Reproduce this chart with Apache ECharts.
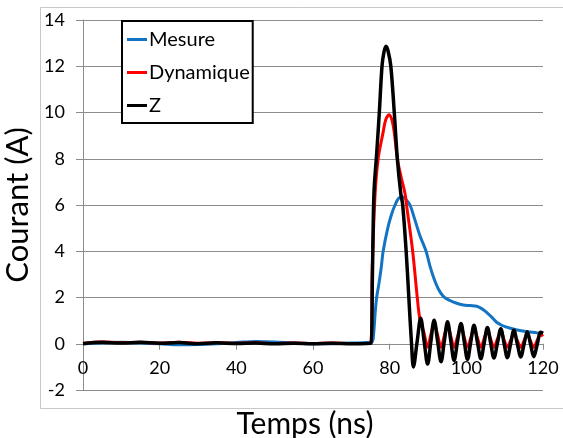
<!DOCTYPE html>
<html>
<head>
<meta charset="utf-8">
<script src="https://cdn.jsdelivr.net/npm/echarts@6/dist/echarts.min.js"></script>
<style>
html,body{margin:0;padding:0;background:#fff;}
#c{width:563px;height:438px;}
</style>
</head>
<body>
<div id="c"></div>
<script>
// ---- data ----
const seriesNames = ['Mesure', 'Dynamique', 'Z'];
const xTicks = [0, 20, 40, 60, 80, 100, 120];
const yTicks = [-2, 0, 2, 4, 6, 8, 10, 12, 14];

const tMesure = [0,5,10,15,20,25,30,35,40,45,50,55,60,65,70,74,75.4,75.8,76.2,76.6,77.2,77.8,78.3,79.5,80.5,81.4,82.3,83.3,84.2,85.3,86.5,87.9,89.5,90.5,91.6,92.7,94,95.7,97.5,99.2,101,102.7,104,105.3,106.6,107.9,109.2,110.5,112.2,114,116,118.4,120];
const vMesure = [0,0.03,0.06,0.03,0,-0.04,-0.03,0,0.05,0.1,0.08,0.03,0,0,0.03,0.05,0.08,0.4,1.3,2.0,2.6,3.3,4.0,5.0,5.6,6.0,6.28,6.36,6.25,6.0,5.4,4.67,4.0,3.37,2.8,2.37,2.05,1.87,1.75,1.68,1.65,1.62,1.52,1.36,1.15,0.93,0.8,0.72,0.64,0.57,0.52,0.47,0.43];

const tDyn = [0,5,10,15,20,25,30,35,40,45,50,55,60,65,70,75,75.5,76.2,77.0,78.3,79.0,79.9,80.7,81.3,82.0,83.0,84.0,84.4,86.0,87.2,87.9,
  89.0,89.9,90.75,91.6,92.5,93.4,94.25,95.1,95.95,96.8,97.7,98.6,99.45,100.3,101.15,102.0,102.9,103.8,104.65,105.5,106.35,107.2,108.1,109.0,109.85,110.7,111.55,112.4,113.3,114.2,115.05,115.9,116.75,117.6,118.5,119.4,120];
const vDyn = [0.02,0.08,0.05,0.06,0.03,0.06,0.02,0.05,0.02,0.04,0.01,0.03,0.01,0.03,0.01,0.03,3.5,6.47,8.0,9.15,9.7,9.9,9.6,9.0,8.0,7.2,6.5,6.0,4.0,2.0,1.05,
  0.45,-0.15,0.4,0.88,0.38,-0.15,0.35,0.8,0.33,-0.15,0.3,0.72,0.28,-0.15,0.25,0.65,0.25,-0.15,0.22,0.56,0.2,-0.15,0.2,0.5,0.17,-0.15,0.15,0.43,0.14,-0.15,0.13,0.38,0.12,-0.15,0.15,0.4,0.32];

const tZ = [0,5,10,15,20,25,30,35,40,45,50,55,60,65,70,75.1,75.5,75.9,76.6,77.3,78.0,78.5,79.05,79.6,80.3,81.2,82.0,82.9,83.4,84.3,85.0,85.7,86.2,
  87.15,88.1,89.0,89.9,90.75,91.6,92.5,93.4,94.25,95.1,95.95,96.8,97.7,98.6,99.45,100.3,101.15,102.0,102.9,103.8,104.65,105.5,106.35,107.2,108.1,109.0,109.85,110.7,111.55,112.4,113.3,114.2,115.05,115.9,116.75,117.6,118.5,119.4,120];
const vZ = [0,0.06,0.03,0.06,0.02,0.05,0,0.04,0.01,0.03,0,0.02,0,0.02,0,0.02,3.0,6.5,8.2,10.0,12.0,12.6,12.86,12.65,12.0,10.0,8.0,6.5,6.0,4.0,2.0,0.0,-1.0,
  0.08,1.1,0.1,-0.88,0.1,1.02,0.12,-0.78,0.1,0.95,0.12,-0.72,0.1,0.88,0.1,-0.68,0.07,0.8,0.06,-0.65,0.03,0.7,0.03,-0.62,0.02,0.65,0.01,-0.6,-0.01,0.58,-0.01,-0.57,-0.02,0.52,-0.02,-0.56,-0.02,0.5,0.45];

const colors = ['#1474c4', '#ff0000', '#000000'];

function pairs(t, v) { return t.map((x, i) => [x, v[i]]); }

const FONT = 'Lato, "Open Sans", sans-serif';
const GRID = {left: 83, right: 20, top: 20, bottom: 48};
const Y_MIN = -2, Y_MAX = 14;
const chartH = 438;
// distance of the zero line above the bottom of the plot (x-axis crosses at y=0)
const zeroOffset = (chartH - GRID.top - GRID.bottom) * (0 - Y_MIN) / (Y_MAX - Y_MIN);

const chart = echarts.init(document.getElementById('c'), null, {renderer: 'canvas'});
chart.setOption({
  animation: false,
  backgroundColor: '#fff',
  textStyle: {fontFamily: FONT},
  graphic: [{
    type: 'rect', z: -10, silent: true,
    shape: {x: 40.5, y: 7.5, width: 600, height: 401},
    style: {fill: 'none', stroke: '#c8c8c8', lineWidth: 1}
  }],
  grid: Object.assign({outerBoundsMode: 'none'}, GRID),
  legend: {
    show: true,
    orient: 'vertical',
    left: 122, top: 21,
    data: seriesNames,
    icon: 'rect',
    itemWidth: 20, itemHeight: 3,
    itemGap: 12,
    padding: [8, 3, 7, 5],
    backgroundColor: '#fff',
    borderColor: '#000', borderWidth: 2, borderRadius: 0,
    textStyle: {fontSize: 20, color: '#000', fontFamily: FONT, lineHeight: 21, padding: [0,0,0,-3]}
  },
  xAxis: {
    type: 'value', min: 0, max: 120, interval: 20,
    offset: -zeroOffset,
    name: 'Temps (ns)', nameLocation: 'middle', nameGap: 66,
    nameTextStyle: {fontSize: 30, color: '#000', fontFamily: FONT, padding: [0, 16, 0, 0]},
    axisLine: {show: true, onZero: false, lineStyle: {color: '#8c8c8c', width: 1}},
    axisTick: {show: true, length: 6, lineStyle: {color: '#8c8c8c'}},
    splitLine: {show: false},
    axisLabel: {fontSize: 18, color: '#000', margin: 15, fontFamily: FONT,
      formatter: v => xTicks.includes(v) ? String(v) : ''}
  },
  yAxis: {
    type: 'value', min: Y_MIN, max: Y_MAX, interval: 2,
    name: 'Courant (A)', nameLocation: 'middle', nameGap: 44,
    nameTextStyle: {fontSize: 31, color: '#000', fontFamily: FONT},
    axisLine: {show: true, onZero: false, lineStyle: {color: '#8c8c8c', width: 1}},
    axisTick: {show: true, length: 7, lineStyle: {color: '#8c8c8c'}},
    splitLine: {show: true, lineStyle: {color: '#8c8c8c', width: 1}},
    axisLabel: {fontSize: 18, color: '#000', margin: 18, fontFamily: FONT,
      formatter: v => yTicks.includes(v) ? String(v) : ''}
  },
  series: [
    {name: seriesNames[0], type: 'line', data: pairs(tMesure, vMesure), showSymbol: false, symbol: 'none',
      smooth: 0.35, lineStyle: {color: colors[0], width: 3}, itemStyle: {color: colors[0]}, z: 2},
    {name: seriesNames[1], type: 'line', data: pairs(tDyn, vDyn), showSymbol: false, symbol: 'none',
      smooth: 0.35, lineStyle: {color: colors[1], width: 3}, itemStyle: {color: colors[1]}, z: 3},
    {name: seriesNames[2], type: 'line', data: pairs(tZ, vZ), showSymbol: false, symbol: 'none',
      smooth: 0.35, lineStyle: {color: colors[2], width: 3.5}, itemStyle: {color: colors[2]}, z: 4}
  ]
});
</script>
</body>
</html>
